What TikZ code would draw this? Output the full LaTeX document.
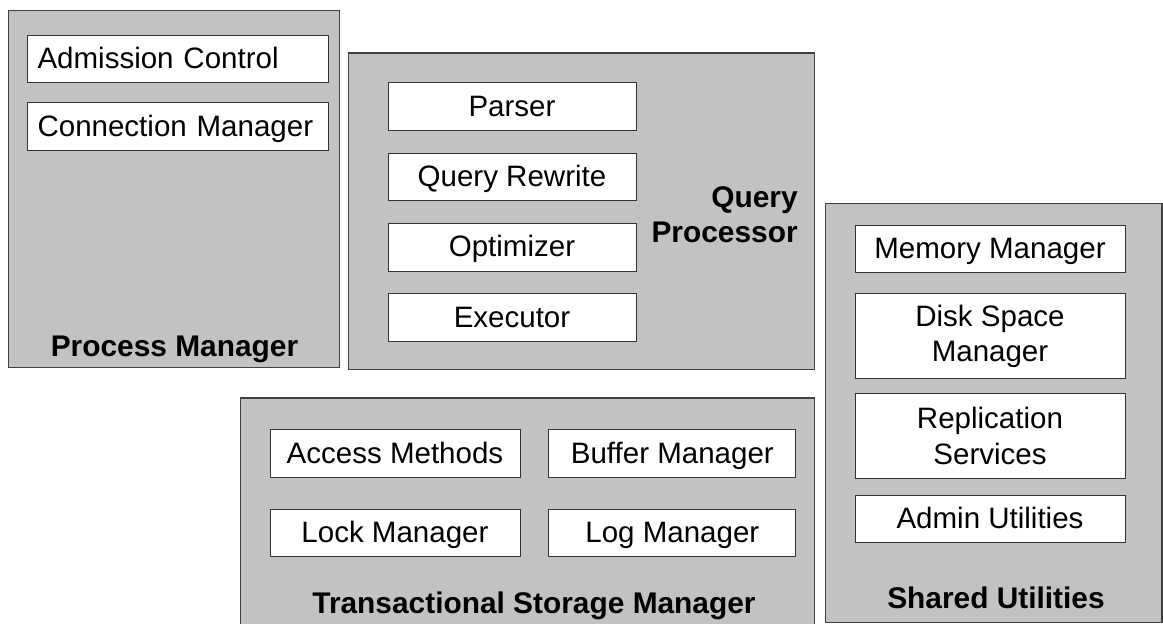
\documentclass[tikz,border=0pt]{standalone}
\usepackage{fontspec}
\setmainfont{Liberation Sans}
\usetikzlibrary{positioning}

\begin{document}
\begin{tikzpicture}[
  x=0.02cm, y=-0.02cm,
  font=\fontsize{16.8}{20}\selectfont,
  panel/.style={draw=black!75, line width=0.6pt, fill=black!24, rectangle, inner sep=0pt},
  unit/.style={draw=black!80, line width=0.5pt, fill=white, rectangle, minimum height=0.95cm, align=center, inner sep=0pt},
  oneline/.style={unit, text height=12pt, text depth=1pt},
  title/.style={font=\fontsize{17}{20}\selectfont\bfseries, inner sep=0pt},
  node distance=0.44cm
]
\useasboundingbox (0,0) rectangle (1163,624);
\clip (0,0) rectangle (1163,624);

% Panels
\node[panel, minimum width=6.64cm, minimum height=7.16cm] (procmgr) at (174,189) {};
\node[panel, minimum width=9.34cm, minimum height=6.34cm] (queryproc) at (581.5,211.5) {};
\node[panel, minimum width=11.5cm, minimum height=5.04cm] (storage) at (527.5,524) {};
\node[panel, minimum width=6.74cm, minimum height=8.4cm] (shared) at (993.5,413) {};

% Process manager
\node[oneline, text width=5.6cm, align=left, inner xsep=0.21cm] (admission) at (177.5,59) {Admission Control};
\node[oneline, text width=5.6cm, align=left, inner xsep=0.21cm, below=0.38cm of admission] (connection) {Connection Manager};
\node[title, anchor=base] (pmlabel) at (174.5,357) {Process Manager};

% Query processor
\node[oneline, minimum width=4.96cm] (parser) at (512,106.5) {Parser};
\node[oneline, minimum width=4.96cm, below=of parser] (rewrite) {Query Rewrite};
\node[oneline, minimum width=4.96cm, below=of rewrite] (optimizer) {Optimizer};
\node[oneline, minimum width=4.96cm, below=of optimizer] (executor) {Executor};
\node[title, align=right, anchor=east] (qplabel) at (798,215) {Query\\Processor};

% Transactional storage manager
\node[oneline, minimum width=5.0cm] (access) at (395,453.5) {Access Methods};
\node[oneline, minimum width=4.94cm, right=0.56cm of access] (buffer) {Buffer Manager};
\node[oneline, minimum width=5.0cm, below=0.62cm of access] (lock) {Lock Manager};
\node[oneline, minimum width=4.94cm, below=0.62cm of buffer] (log) {Log Manager};
\node[title, anchor=base] (tsmlabel) at (534,613) {Transactional Storage Manager};

% Shared utilities
\node[oneline, minimum width=5.4cm] (memory) at (990,249) {Memory Manager};
\node[unit, minimum width=5.4cm, minimum height=1.7cm, below=0.4cm of memory] (disk) {Disk Space\\Manager};
\node[unit, minimum width=5.4cm, minimum height=1.7cm, below=0.28cm of disk] (replication) {Replication\\Services};
\node[oneline, minimum width=5.4cm, below=0.32cm of replication] (admin) {Admin Utilities};
\node[title, anchor=base] (sulabel) at (996,608) {Shared Utilities};

\end{tikzpicture}
\end{document}
